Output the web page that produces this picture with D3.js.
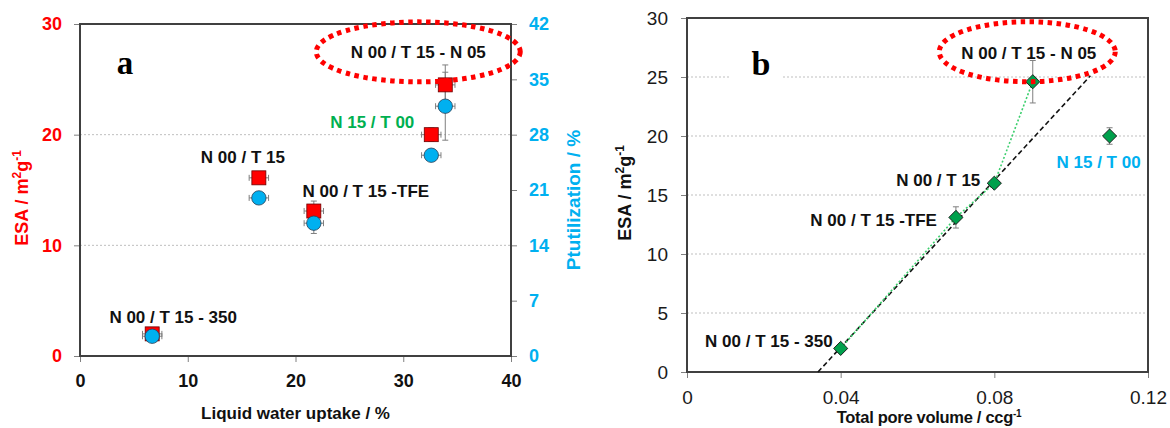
<!DOCTYPE html>
<html><head><meta charset="utf-8">
<script src="https://cdn.jsdelivr.net/npm/d3@7"></script>
<style>
html,body{margin:0;padding:0;background:#fff;}
svg{display:block;font-family:"Liberation Sans",Arial,sans-serif;font-weight:bold;}
</style></head>
<body><svg id="c" width="1170" height="428"></svg>
<script>
// ---------- Panel a data ----------
const samplesA = ["N 00 / T 15 - 350", "N 00 / T 15", "N 00 / T 15 -TFE", "N 15 / T 00", "N 00 / T 15 - N 05"];
const waterUptake = [6.7, 16.6, 21.7, 32.6, 33.9];
const waterUptakeErr = [0.9, 0.9, 0.9, 0.9, 0.9];
const esaA = [2.0, 16.1, 13.1, 20.0, 24.5];
const esaErrA = [0.3, 0.4, 0.9, 0.6, 1.8];
const ptUtil = [2.5, 20.0, 16.8, 25.4, 31.6];
const ptErr = [0.5, 0.5, 1.3, 0.6, 4.3];
const xTicksA = [0, 10, 20, 30, 40];
const esaTicksA = [0, 10, 20, 30];
const ptTicks = [0, 7, 14, 21, 28, 35, 42];

// ---------- Panel b data ----------
const samplesB = ["N 00 / T 15 - 350", "N 00 / T 15 -TFE", "N 00 / T 15", "N 00 / T 15 - N 05", "N 15 / T 00"];
const poreVolume = [0.04, 0.07, 0.08, 0.09, 0.11];
const esaB = [2.0, 13.1, 16.0, 24.6, 20.0];
const esaErrB = [0.3, 0.9, 0.3, 1.8, 0.7];
const trendIdx = [0, 1, 2, 3];           // points joined by the green dotted line
const fitX = [0.0341, 0.105];             // linear fit end points
const fitY = [0, 25.1];
const xTicksB = [0, 0.04, 0.08, 0.12];
const esaTicksB = [0, 5, 10, 15, 20, 25, 30];

const RED = "#ff0000", BLUE = "#00b0f0", GREEN_T = "#00b050", GREEN_M = "#00a04c",
      FRAME = "#404040", GRID = "#bfbfbf", TICK = "#808080", ERR = "#7f7f7f";

const svg = d3.select("#c");

function frame(g, x0, x1, y0, y1) {
  g.append("rect").attr("x", x0).attr("y", y0).attr("width", x1 - x0).attr("height", y1 - y0)
    .attr("fill", "none").attr("stroke", FRAME).attr("stroke-width", 2);
}
function styleAxis(sel, color, size, weight) {
  sel.select(".domain").remove();
  sel.selectAll(".tick line").attr("stroke", TICK).attr("stroke-width", 1);
  sel.selectAll(".tick text").attr("fill", color).attr("font-size", size)
    .attr("font-weight", weight || "bold").attr("font-family", "Liberation Sans, Arial, sans-serif");
}
function errV(g, cx, cy0, cy1) {
  g.append("line").attr("x1", cx).attr("x2", cx).attr("y1", cy0).attr("y2", cy1).attr("stroke", ERR).attr("stroke-width", 1);
  [cy0, cy1].forEach(y => g.append("line").attr("x1", cx - 3).attr("x2", cx + 3).attr("y1", y).attr("y2", y).attr("stroke", ERR).attr("stroke-width", 1));
}
function errH(g, cy, cx0, cx1) {
  g.append("line").attr("y1", cy).attr("y2", cy).attr("x1", cx0).attr("x2", cx1).attr("stroke", ERR).attr("stroke-width", 1);
  [cx0, cx1].forEach(x => g.append("line").attr("y1", cy - 3).attr("y2", cy + 3).attr("x1", x).attr("x2", x).attr("stroke", ERR).attr("stroke-width", 1));
}
function label(g, x, y, txt, color, anchor, size) {
  g.append("text").attr("x", x).attr("y", y).attr("dy", "0.35em").attr("text-anchor", anchor || "middle")
    .attr("fill", color || "#111").attr("font-size", size || 17).attr("font-weight", "bold").text(txt);
}
function ellipse(g, cx, cy, rx, ry) {
  g.append("ellipse").attr("cx", cx).attr("cy", cy).attr("rx", rx).attr("ry", ry)
    .attr("fill", "none").attr("stroke", RED).attr("stroke-width", 5).attr("stroke-dasharray", "4.5,4.5");
}

// ================= Panel a =================
{
  const L = 80, R = 511, T = 24, B = 356;
  const x = d3.scaleLinear().domain([0, 40]).range([L, R]);
  const yE = d3.scaleLinear().domain([0, 30]).range([B, T]);
  const yP = d3.scaleLinear().domain([0, 42]).range([B, T]);
  const g = svg.append("g");

  esaTicksA.filter(v => v > 0 && v < 30).forEach(v => {
    g.append("line").attr("x1", L).attr("x2", R).attr("y1", yE(v)).attr("y2", yE(v))
      .attr("stroke", GRID).attr("stroke-width", 1).attr("stroke-dasharray", "2,2");
  });

  g.append("g").attr("transform", `translate(${L},0)`)
    .call(d3.axisLeft(yE).tickValues(esaTicksA).tickSize(6).tickPadding(12))
    .call(s => styleAxis(s, RED, 18));
  g.append("g").attr("transform", `translate(${R},0)`)
    .call(d3.axisRight(yP).tickValues(ptTicks).tickSize(6).tickPadding(12))
    .call(s => styleAxis(s, BLUE, 18));
  g.append("g").attr("transform", `translate(0,${B})`)
    .call(d3.axisBottom(x).tickValues(xTicksA).tickSize(6).tickPadding(12))
    .call(s => styleAxis(s, "#111", 18));

  frame(g, L, R, T, B);

  waterUptake.forEach((wx, i) => {
    errV(g, x(wx), yE(esaA[i] + esaErrA[i]), yE(esaA[i] - esaErrA[i]));
    errV(g, x(wx), yP(ptUtil[i] + ptErr[i]), yP(ptUtil[i] - ptErr[i]));
    errH(g, yE(esaA[i]), x(wx - waterUptakeErr[i]), x(wx + waterUptakeErr[i]));
    errH(g, yP(ptUtil[i]), x(wx - waterUptakeErr[i]), x(wx + waterUptakeErr[i]));
  });
  g.selectAll("rect.sq").data(waterUptake).join("rect").attr("class", "sq")
    .attr("x", (d) => x(d) - 7).attr("y", (d, i) => yE(esaA[i]) - 7)
    .attr("width", 14).attr("height", 14).attr("fill", RED).attr("stroke", "#6b0000").attr("stroke-width", 0.8);
  g.selectAll("circle.pt").data(waterUptake).join("circle").attr("class", "pt")
    .attr("cx", d => x(d)).attr("cy", (d, i) => yP(ptUtil[i])).attr("r", 7.2)
    .attr("fill", BLUE).attr("stroke", "#2b3f55").attr("stroke-width", 0.8);

  const offA = [[21, -17], [-16, -21], [52, -20], [-59, -13], [-27, -33]];
  const colA = ["#111", "#111", "#111", GREEN_T, "#111"];
  samplesA.forEach((s, i) => {
    const lx = x(waterUptake[i]) + offA[i][0], ly = yE(esaA[i]) + offA[i][1];
    label(g, lx, ly, s, colA[i], "middle", 17);
    if (i === 4) ellipse(g, lx, ly, 102, 30);
  });

  g.append("text").attr("x", 125).attr("y", 74).attr("text-anchor", "middle")
    .attr("font-family", "Liberation Serif, Times New Roman, serif").attr("font-weight", "bold")
    .attr("font-size", 33).attr("fill", "#000").text("a");

  const ty = g.append("text").attr("transform", `translate(28,198) rotate(-90)`)
    .attr("text-anchor", "middle").attr("fill", RED).attr("font-size", 18).attr("font-weight", "bold");
  ty.append("tspan").text("ESA / m");
  ty.append("tspan").attr("font-size", 12).attr("dy", -7).text("2");
  ty.append("tspan").attr("dy", 7).text("g");
  ty.append("tspan").attr("font-size", 12).attr("dy", -7).text("-1");

  g.append("text").attr("transform", `translate(580,200) rotate(-90)`)
    .attr("text-anchor", "middle").attr("fill", BLUE).attr("font-size", 19).attr("font-weight", "bold")
    .text("Ptutilization / %");

  g.append("text").attr("x", (L + R) / 2).attr("y", 419).attr("text-anchor", "middle")
    .attr("fill", "#111").attr("font-size", 17).attr("font-weight", "bold").text("Liquid water uptake / %");
}

// ================= Panel b =================
{
  const L = 687, R = 1148, T = 18, B = 372;
  const x = d3.scaleLinear().domain([0, 0.12]).range([L, R]);
  const y = d3.scaleLinear().domain([0, 30]).range([B, T]);
  const g = svg.append("g");

  esaTicksB.filter(v => v > 0 && v < 30).forEach(v => {
    g.append("line").attr("x1", L).attr("x2", R).attr("y1", y(v)).attr("y2", y(v))
      .attr("stroke", GRID).attr("stroke-width", 1).attr("stroke-dasharray", "2,2");
  });

  g.append("g").attr("transform", `translate(${L},0)`)
    .call(d3.axisLeft(y).tickValues(esaTicksB).tickSize(6).tickPadding(13))
    .call(s => styleAxis(s, "#1a1a1a", 19, "normal"));
  g.append("g").attr("transform", `translate(0,${B})`)
    .call(d3.axisBottom(x).tickValues(xTicksB).tickFormat(d => d === 0 ? "0" : d3.format(".2f")(d)).tickSize(6).tickPadding(13))
    .call(s => styleAxis(s, "#1a1a1a", 19, "normal"));

  g.append("rect").attr("x", 730).attr("y", 40).attr("width", 53).attr("height", 44).attr("fill", "#fff");
  g.append("text").attr("x", 761).attr("y", 75).attr("text-anchor", "middle")
    .attr("font-family", "Liberation Serif, Times New Roman, serif").attr("font-weight", "bold")
    .attr("font-size", 34).attr("fill", "#000").text("b");

  frame(g, L, R, T, B);

  g.append("path").datum(fitX.map((v, i) => [v, fitY[i]]))
    .attr("d", d3.line().x(d => x(d[0])).y(d => y(d[1])))
    .attr("fill", "none").attr("stroke", "#111").attr("stroke-width", 1.6).attr("stroke-dasharray", "5,3");
  g.append("path").datum(trendIdx.map(i => [poreVolume[i], esaB[i]]))
    .attr("d", d3.line().x(d => x(d[0])).y(d => y(d[1])))
    .attr("fill", "none").attr("stroke", "#3ccf6e").attr("stroke-width", 1.6).attr("stroke-dasharray", "2,2");

  poreVolume.forEach((px, i) => errV(g, x(px), y(esaB[i] + esaErrB[i]), y(esaB[i] - esaErrB[i])));

  g.selectAll("rect.dm").data(poreVolume).join("rect").attr("class", "dm")
    .attr("x", -5).attr("y", -5).attr("width", 10).attr("height", 10)
    .attr("transform", (d, i) => `translate(${x(d)},${y(esaB[i])}) rotate(45)`)
    .attr("fill", GREEN_M).attr("stroke", "#1a1a1a").attr("stroke-width", 0.9);

  const offB = [[-8, -7, "end"], [-19, 3, "end"], [-14, -3, "end"], [-4, -29, "middle"], [-11, 26, "middle"]];
  const colB = ["#111", "#111", "#111", "#111", BLUE];
  samplesB.forEach((s, i) => {
    const lx = x(poreVolume[i]) + offB[i][0], ly = y(esaB[i]) + offB[i][1];
    label(g, lx, ly, s, colB[i], offB[i][2], 17);
    if (i === 3) ellipse(g, lx - 1.5, ly - 1, 88, 30);
  });

  const ty = g.append("text").attr("transform", `translate(631,193) rotate(-90)`)
    .attr("text-anchor", "middle").attr("fill", "#111").attr("font-size", 18).attr("font-weight", "bold");
  ty.append("tspan").text("ESA / m");
  ty.append("tspan").attr("font-size", 12).attr("dy", -7).text("2");
  ty.append("tspan").attr("dy", 7).text("g");
  ty.append("tspan").attr("font-size", 12).attr("dy", -7).text("-1");

  const tx = g.append("text").attr("x", 929).attr("y", 423).attr("text-anchor", "middle")
    .attr("fill", "#111").attr("font-size", 16.5).attr("font-weight", "bold").attr("letter-spacing", -0.3);
  tx.append("tspan").text("Total pore volume / ccg");
  tx.append("tspan").attr("font-size", 10).attr("dy", -6).text("-1");
}
</script></body></html>
